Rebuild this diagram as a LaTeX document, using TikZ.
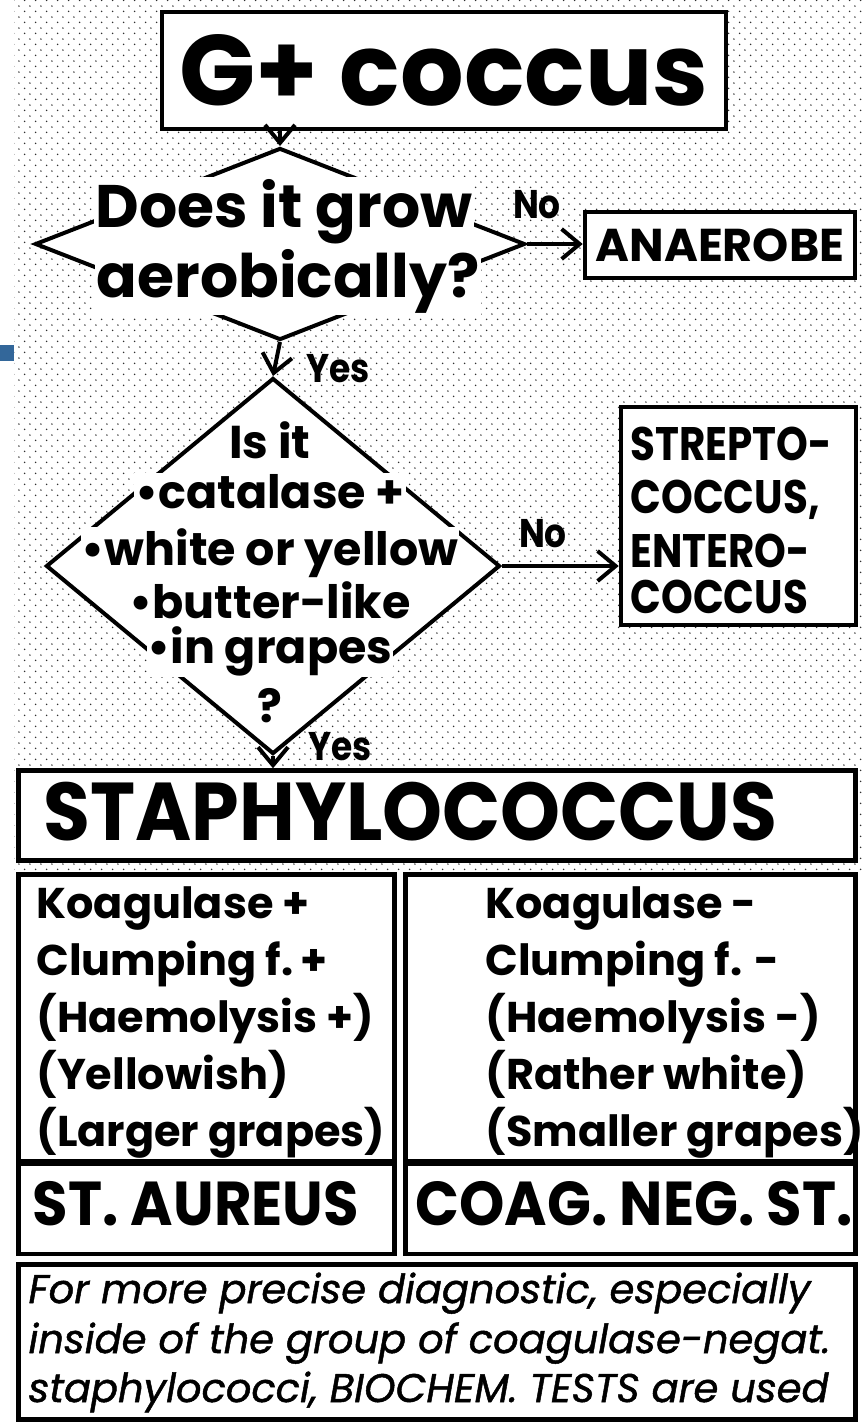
\documentclass[tikz,border=0pt]{standalone}
\usepackage{fontspec}
\setmainfont{Poppins}
\newfontfamily\narrowfont{Poppins}[FakeStretch=0.86]
\newfontfamily\midfont{Poppins}[FakeStretch=0.93]
\newfontfamily\notefont{Poppins}[FakeBold=1.2]
\usetikzlibrary{arrows.meta, positioning, shapes.geometric, patterns.meta}
\definecolor{inkdot}{HTML}{303030}
\definecolor{slideblue}{HTML}{33679A}

\tikzdeclarepattern{
  name=speckle, type=uncolored,
  bounding box={(0pt,0pt) and (11.3pt,11.3pt)},
  tile size={(11.3pt,11.3pt)},
  code={\fill (2.8pt,2.8pt) circle (0.85pt); \fill (8.45pt,8.45pt) circle (0.85pt);}}

\tikzset{
  box/.style={draw, line width=4.5pt, fill=white, inner sep=0pt},
  decision/.style={diamond, draw, line width=4pt, fill=white, inner sep=0pt},
  flow/.style={line width=4pt, -{Straight Barb[length=18pt,width=30pt,line width=4pt]}},
  answer/.style={anchor=base, font=\narrowfont\bfseries\fontsize{40}{40}\selectfont},
  question/.style={anchor=base, fill=white, inner sep=2pt, font=\bfseries\fontsize{60}{60}\selectfont},
  criterion/.style={anchor=base, fill=white, inner sep=1pt, font=\bfseries\fontsize{46}{46}\selectfont},
  trait/.style={anchor=base west, font=\bfseries\fontsize{43}{43}\selectfont},
  verdict/.style={anchor=base, font=\midfont\bfseries\fontsize{62}{62}\selectfont},
}

\begin{document}
\begin{tikzpicture}[x=1pt, y=-1pt]
  \useasboundingbox (0,0) rectangle (862,1425);
  \fill[white] (0,0) rectangle (862,1425);
  \fill[pattern=speckle, pattern color=inkdot] (14,0) rectangle (862,872);
  \fill[slideblue] (0,345) rectangle (14,361);

  % boxes
  \node[box, minimum width=564pt, minimum height=117pt,
        font=\bfseries\fontsize{100}{100}\selectfont] (gpos) at (444,70.5) {G+ coccus};
  \node[box, minimum width=270pt, minimum height=66pt,
        font=\bfseries\fontsize{46}{46}\selectfont] (anaer) at (720,245) {ANAEROBE};
  \node[box, minimum width=235pt, minimum height=218pt] (strep) at (738.5,516) {};
  \node[box, minimum width=837pt, minimum height=90pt] (staph) at (437,815.5) {};
  \node[box, minimum width=376pt, minimum height=287pt] (kpos) at (206.5,1018) {};
  \node[box, minimum width=450pt, minimum height=287pt] (kneg) at (630.5,1018) {};
  \node[box, minimum width=376pt, minimum height=90pt] (aureus) at (206.5,1209) {};
  \node[box, minimum width=450pt, minimum height=90pt] (cns) at (630.5,1209) {};
  \node[box, minimum width=837pt, minimum height=155pt] (note) at (437,1342) {};

  % decisions
  \node[decision, minimum width=490pt, minimum height=192pt] (q1) at (280,244) {};
  \node[decision, minimum width=454pt, minimum height=376pt] (q2) at (273,566) {};

  % connectors
  \draw[flow] (q1.north |- gpos.south) -- (q1.north);
  \draw[flow] (q1.east) -- (q1.east -| anaer.west);
  \draw[flow] (q1.south) -- (q2.north);
  \draw[flow] (q2.east) -- (q2.east -| strep.west);
  \draw[flow] (q2.south) -- (q2.south |- staph.north);

  \node[answer] (no1) at (537,218) {No};
  \node[answer] (yes1) at (338,382) {Yes};
  \node[answer] (no2) at (543,547) {No};
  \node[answer] (yes2) at (340,760) {Yes};

  % texts
  \node[question] (q1a) at (284,227) {Does it grow};
  \node[question] (q1b) at (288,297) {aerobically?};
  \foreach \txt/\yb in {Is it/458, •catalase +/508, •white or yellow/565,
                        •butter-like/618, •in grapes/663, ?/722}
    \node[criterion] (crit\yb) at (270,\yb) {\txt};

  \foreach \txt/\yb in {STREPTO-/460, {COCCUS,}/513, ENTERO-/567, COCCUS/613}
    \node[anchor=base west, font=\narrowfont\bfseries\fontsize{47}{47}\selectfont]
      (strep\yb) at (627,\yb) {\txt};

  \node[anchor=base west, font=\midfont\bfseries\fontsize{82}{82}\selectfont]
    (staphlbl) at (40,840) {STAPHYLOCOCCUS};

  \foreach \txt/\yb in {Koagulase +/918, Clumping f.\,+/975, (Haemolysis +)/1032,
                        (Yellowish)/1089, (Larger grapes)/1146}
    \node[trait] (pos\yb) at (33,\yb) {\txt};
  \foreach \txt/\yb in {Koagulase -/918, Clumping f. -/975, (Haemolysis -)/1032,
                        (Rather white)/1089, (Smaller grapes)/1146}
    \node[trait] (neg\yb) at (482,\yb) {\txt};

  \node[verdict] (aurlbl) at (196,1225) {ST. AUREUS};
  \node[verdict] (cnslbl) at (634,1225) {COAG. NEG. ST.};

  \foreach \txt/\yb in {{For more precise diagnostic, especially}/1303,
                        {inside of the group of coagulase-negat.}/1353,
                        {staphylococci, BIOCHEM. TESTS are used}/1402}
    \node[anchor=base west, font=\notefont\itshape\fontsize{40}{40}\selectfont]
      (note\yb) at (25,\yb) {\txt};
\end{tikzpicture}
\end{document}
